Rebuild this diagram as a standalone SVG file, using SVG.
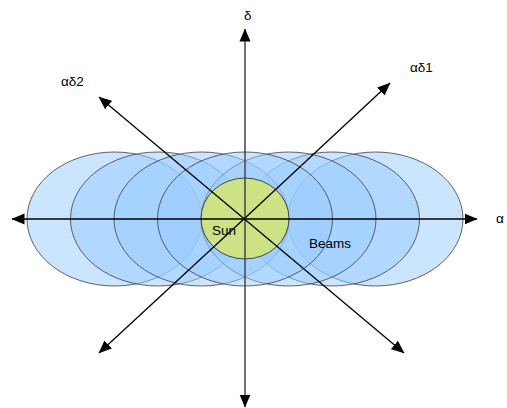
<svg xmlns="http://www.w3.org/2000/svg" width="507" height="408" viewBox="0 0 507 408">
<style>
.beam{fill:#99ccff;fill-opacity:0.5;stroke:#333;stroke-opacity:0.75;stroke-width:1}
.axis{stroke:#000;stroke-width:1.3;fill:none}
.lbl{font-family:"Liberation Sans",Arial,sans-serif;font-size:13.5px;fill:#000}
</style>
<defs>
<marker id="ah" markerUnits="userSpaceOnUse" markerWidth="13" markerHeight="12" refX="12.5" refY="6" orient="auto">
<path d="M0,0.5 L13,6 L0,11.5 Z" fill="#000"/>
</marker>
</defs>
<rect width="507" height="408" fill="#fff"/>
<g id="beams">
<ellipse class="beam" cx="114.5" cy="219" rx="87.5" ry="67"/>
<ellipse class="beam" cx="375.5" cy="219" rx="87.5" ry="67"/>
<ellipse class="beam" cx="158" cy="219" rx="87.5" ry="67"/>
<ellipse class="beam" cx="332" cy="219" rx="87.5" ry="67"/>
<ellipse class="beam" cx="201.5" cy="219" rx="87.5" ry="67"/>
<ellipse class="beam" cx="288.5" cy="219" rx="87.5" ry="67"/>
<ellipse class="beam" cx="245" cy="219" rx="87.5" ry="67"/>
</g>
<g id="sun">
<ellipse cx="245" cy="218.5" rx="44" ry="40.5" fill="#cfe47b" fill-opacity="0.92" stroke="#444" stroke-width="1"/>
<text class="lbl" x="212" y="235">Sun</text>
</g>
<g id="connectors">
<line class="axis" x1="245" y1="219" x2="12" y2="219" marker-end="url(#ah)"/>
<line class="axis" x1="245" y1="219" x2="477" y2="219" marker-end="url(#ah)"/>
<line class="axis" x1="245" y1="219" x2="245" y2="29" marker-end="url(#ah)" style="stroke:#444;stroke-width:1.5"/>
<line class="axis" x1="245" y1="219" x2="245" y2="407" marker-end="url(#ah)" style="stroke:#444;stroke-width:1.5"/>
<line class="axis" x1="245" y1="218" x2="390" y2="83" marker-end="url(#ah)"/>
<line class="axis" x1="245" y1="218" x2="99" y2="353" marker-end="url(#ah)"/>
<line class="axis" x1="245" y1="219.5" x2="99" y2="97" marker-end="url(#ah)"/>
<line class="axis" x1="245" y1="219.5" x2="404" y2="353" marker-end="url(#ah)"/>
</g>
<g id="labels">
<text class="lbl" x="309" y="248">Beams</text>
<text class="lbl" x="244" y="20">δ</text>
<text class="lbl" x="496" y="223">α</text>
<text class="lbl" x="410" y="72">αδ1</text>
<text class="lbl" x="61" y="86">αδ2</text>
</g>
</svg>
